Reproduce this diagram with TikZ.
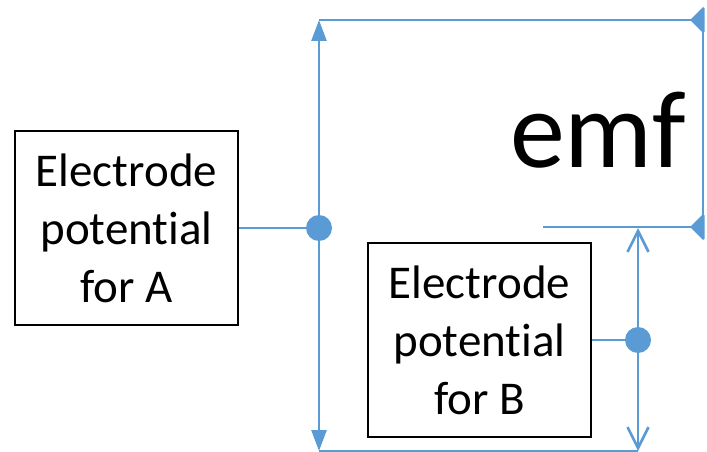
\documentclass[tikz,border=0pt]{standalone}
\usepackage{fontspec}
\setmainfont{Carlito}[Ligatures=NoCommon]
\usetikzlibrary{arrows.meta}
\definecolor{lineblue}{HTML}{5B9BD5}
\begin{document}
\begin{tikzpicture}[x=1pt,y=-1pt,
  box/.style={draw=black, line width=2pt, minimum width=223pt, minimum height=194pt,
    align=center, font=\fontsize{47}{58}\selectfont, inner sep=0pt},
  dot/.style={circle, fill=lineblue, minimum size=26pt, inner sep=0pt},
  thickline/.style={draw=lineblue, line width=2.6pt},
  thinline/.style={draw=lineblue, line width=1.6pt},
  solidtip/.style={-{Triangle[length=21pt,width=15pt]}},
  opentip/.style={-{Straight Barb[length=21pt,width=21pt]}}
]
\useasboundingbox (0,0) rectangle (707,452);
\node[box] (A) at (126.5,228) {Electrode\\potential\\for A};
\node[box] (B) at (479.5,340) {Electrode\\potential\\for B};
\node[dot] (dA) at (319,228) {};
\node[dot] (dB) at (638,340) {};
\coordinate (aTop) at (319,20);
\coordinate (aBot) at (319,451);
\coordinate (bTop) at (638,228);
\coordinate (bBot) at (638,451);
\coordinate (eTop) at (703,20);
\coordinate (eBot) at (703,227);
\coordinate (mL) at (543,227);
\node[font=\fontsize{110}{130}\selectfont, anchor=base west, inner sep=0pt] (emf) at (510,167) {emf};

\draw[thinline] (aTop) -- (eTop);
\draw[thinline] (mL) -- (eBot);
\draw[thinline] (aBot) -- (bBot);
\draw[thickline] (eTop) -- (eBot);
\draw[thickline] (A.east) -- (dA);
\draw[thickline] (B.east |- dB) -- (dB);
\draw[thickline, solidtip] (dA) -- (aTop);
\draw[thickline, solidtip] (dA) -- (aBot);
\draw[thickline, opentip] (dB) -- (bTop);
\draw[thickline, opentip] (dB) -- (bBot);
\begin{scope}
\clip (0,0) rectangle (704.5,452);
\fill[lineblue] ([xshift=-13pt]eTop) -- ([yshift=13pt]eTop) -- ([xshift=13pt]eTop) -- ([yshift=-13pt]eTop) -- cycle;
\fill[lineblue] ([xshift=-13pt]eBot) -- ([yshift=13pt]eBot) -- ([xshift=13pt]eBot) -- ([yshift=-13pt]eBot) -- cycle;
\end{scope}
\end{tikzpicture}
\end{document}
